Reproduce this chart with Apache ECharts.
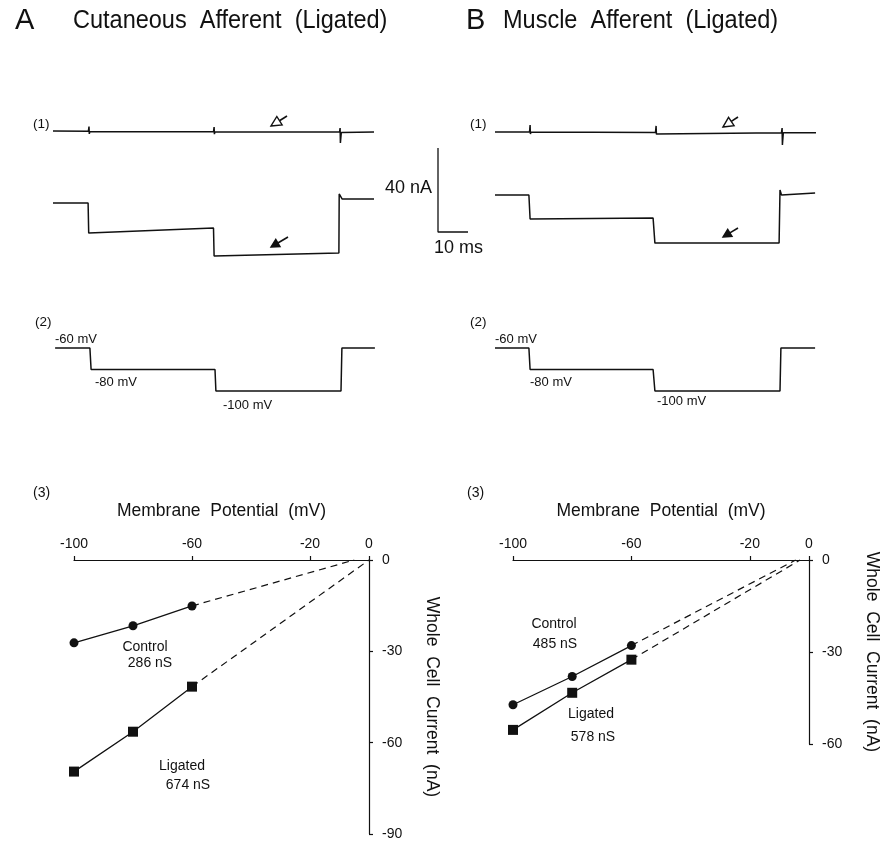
<!DOCTYPE html>
<html><head><meta charset="utf-8">
<script src="https://cdn.jsdelivr.net/npm/echarts@6/dist/echarts.min.js"></script>
<style>html,body{margin:0;padding:0;background:#fff}#c{width:883px;height:841px}</style>
</head><body><div id="c"></div>
<script>
// ---------------- DATA ----------------
const titleA = 'Cutaneous  Afferent  (Ligated)';
const titleB = 'Muscle  Afferent  (Ligated)';

// Panel A, trace (1): time (ms) / current (nA)
const tA1 = [0, 11.8, 12.0, 12.1, 12.3, 53.5, 53.7, 53.8, 54.0, 95.5, 95.7, 95.8, 96.1, 107];
const iA1 = [34.3, 34.2, 36.4, 32.9, 34.1, 33.9, 36.2, 32.8, 33.9, 33.8, 35.7, 28.6, 33.6, 33.8];
// Panel A, trace (2)
const tA2 = [0, 11.7, 11.9, 53.5, 53.7, 95.3, 95.4, 96.4, 107];
const iA2 = [0, 0, -14.3, -11.9, -25.2, -23.8, 4.3, 1.9, 1.9];
// Panel B, trace (1)
const tB1 = [0, 11.5, 11.7, 11.8, 12.0, 53.5, 53.7, 53.8, 54.0, 95.5, 95.7, 95.8, 96.1, 107];
const iB1 = [30.0, 30.0, 33.3, 29.0, 30.0, 29.8, 32.9, 29.0, 29.8, 29.7, 31.9, 23.8, 29.6, 29.7];
// Panel B, trace (2)
const tB2 = [0, 11.3, 11.7, 52.7, 53.3, 94.7, 95.0, 95.5, 106.7];
const iB2 = [0, 0, -11.4, -11.0, -22.9, -22.9, 2.4, 0, 1.0];

// Voltage protocol (mV)
const tVA = [0.7, 12.3, 12.7, 54.0, 54.3, 96.0, 96.3, 107.3];
const tVB = [0, 11.3, 11.7, 52.7, 53.3, 95.0, 95.3, 106.7];
const vCmd = [-60, -60, -80, -80, -100, -100, -60, -60];
const vLabels = ['-60 mV', '-80 mV', '-100 mV'];

// Scale bar (ms, nA)
const scaleLenT = 10, scaleLenI = 40;
const scaleLabels = ['40 nA', '10 ms'];

// I-V relations
const vSteps = [-100, -80, -60];
const ctrlA = [-27.2, -21.6, -15.1];
const ligA = [-69.5, -56.4, -41.6];
const ctrlB = [-47.2, -38.0, -27.9];
const ligB = [-55.4, -43.3, -32.5];
// extrapolated reversal potentials (mV)
const revCtrlA = -5, revLigA = 0, revCtrlB = -4.5, revLigB = -3;
const xTicks = [-100, -60, -20, 0];
const condLabels = {ctrlA: ['Control', '286 nS'], ligA: ['Ligated', '674 nS'], ctrlB: ['Control', '485 nS'], ligB: ['Ligated', '578 nS']};

// ---------------- CHART ----------------
const FF = '"Liberation Sans", Arial, sans-serif';
const INK = '#111';
const zip = (a, b) => a.map((v, i) => [v, b[i]]);

const grids = [
  {left: 53, top: 108.5, width: 324, height: 157.5},   // 0 current A
  {left: 495, top: 100.5, width: 324, height: 157.5},  // 1 current B
  {left: 53, top: 337.25, width: 324, height: 64.5},   // 2 voltage A
  {left: 495, top: 337.25, width: 324, height: 64.5},  // 3 voltage B
  {left: 74, top: 560, width: 295, height: 275},       // 4 IV A
  {left: 513, top: 560, width: 296, height: 184},      // 5 IV B
  {left: 438, top: 148, width: 30, height: 84}         // 6 scale bar (3 px/ms, 2.1 px/nA)
];
const hiddenX = i => ({gridIndex: i, type: 'value', min: 0, max: 108, show: false});
const hiddenYI = i => ({gridIndex: i, type: 'value', min: -30, max: 45, show: false});
const hiddenYV = i => ({gridIndex: i, type: 'value', min: -110, max: -50, show: false});

const axLine = {lineStyle: {color: INK, width: 1.2}};
const ivX = i => ({
  gridIndex: i, type: 'value', position: 'top', min: -100, max: 0,
  name: 'Membrane  Potential  (mV)', nameLocation: 'middle', nameGap: 40,
  nameTextStyle: {fontFamily: FF, fontSize: 17.5, color: INK},
  axisLine: {show: true, onZero: false, ...axLine},
  axisTick: {show: true, length: 4, inside: false, customValues: xTicks, lineStyle: {color: INK, width: 1.2}},
  axisLabel: {fontFamily: FF, fontSize: 14, color: INK, margin: 9, customValues: xTicks},
  splitLine: {show: false}
});
const ivY = (i, min) => ({
  gridIndex: i, type: 'value', position: 'right', min: min, max: 0, interval: 30,
  name: 'Whole  Cell  Current  (nA)', nameLocation: 'middle', nameGap: 54, nameRotate: -90,
  nameTextStyle: {fontFamily: FF, fontSize: 17.5, color: INK},
  axisLine: {show: true, onZero: false, ...axLine},
  axisTick: {show: true, length: 4, inside: false, lineStyle: {color: INK, width: 1.2}},
  axisLabel: {fontFamily: FF, fontSize: 14, color: INK, margin: 13},
  splitLine: {show: false}
});

const trace = (i, data) => ({type: 'line', xAxisIndex: i, yAxisIndex: i, data, symbol: 'none',
  lineStyle: {color: INK, width: 1.5}, clip: false, silent: true, animation: false});
const ivSolid = (i, data, sym, size) => ({type: 'line', xAxisIndex: i, yAxisIndex: i, data,
  symbol: sym, symbolSize: size, itemStyle: {color: INK}, lineStyle: {color: INK, width: 1.3},
  silent: true, animation: false, clip: false});
const ivDash = (i, data) => ({type: 'line', xAxisIndex: i, yAxisIndex: i, data, symbol: 'none',
  lineStyle: {color: INK, width: 1.2, type: [7, 5]}, silent: true, animation: false, clip: false});

const series = [
  trace(0, zip(tA1, iA1)), trace(0, zip(tA2, iA2)),
  trace(1, zip(tB1, iB1)), trace(1, zip(tB2, iB2)),
  trace(2, zip(tVA, vCmd)), trace(3, zip(tVB, vCmd)),
  {type: 'line', xAxisIndex: 6, yAxisIndex: 6, symbol: 'none', clip: false, silent: true, animation: false,
    lineStyle: {color: INK, width: 1.3},
    data: [[0, scaleLenI], [0, 0], [scaleLenT, 0]]},
  ivSolid(4, zip(vSteps, ctrlA), 'circle', 9), ivDash(4, [[vSteps[2], ctrlA[2]], [revCtrlA, 0]]),
  ivSolid(4, zip(vSteps, ligA), 'rect', 10), ivDash(4, [[vSteps[2], ligA[2]], [revLigA, 0]]),
  ivSolid(5, zip(vSteps, ctrlB), 'circle', 9), ivDash(5, [[vSteps[2], ctrlB[2]], [revCtrlB, 0]]),
  ivSolid(5, zip(vSteps, ligB), 'rect', 10), ivDash(5, [[vSteps[2], ligB[2]], [revLigB, 0]])
];

// ---------- annotations ----------
const txt = (x, y, text, size, align, extra) => Object.assign({type: 'text', x, y, silent: true,
  style: {text, font: size + 'px ' + FF, fill: INK, align: align || 'left', verticalAlign: 'middle'}}, extra || {});
function arrow(tipX, tipY, tailX, tailY, filled) {
  const dx = tailX - tipX, dy = tailY - tipY, L = Math.hypot(dx, dy), ux = dx / L, uy = dy / L;
  const hl = filled ? 8 : 10, hw = filled ? 4.2 : 5;
  const bx = tipX + ux * hl, by = tipY + uy * hl, px = -uy, py = ux;
  return [
    {type: 'line', silent: true, shape: {x1: bx, y1: by, x2: tailX, y2: tailY}, style: {stroke: INK, lineWidth: 1.6}},
    {type: 'polygon', silent: true, shape: {points: [[tipX, tipY], [bx + px * hw, by + py * hw], [bx - px * hw, by - py * hw]]},
      style: {fill: filled ? INK : '#fff', stroke: INK, lineWidth: 1.4}}
  ];
}
const graphic = [
  txt(15, 21, 'A', 29),
  txt(73, 21, titleA, 25, 'left', {scaleX: 0.94}),
  txt(466, 21, 'B', 29),
  txt(503, 21, titleB, 25, 'left', {scaleX: 0.94}),
  txt(33, 124, '(1)', 13.5), txt(470, 124, '(1)', 13.5),
  txt(35, 322, '(2)', 13.5), txt(470, 322, '(2)', 13.5),
  txt(33, 493, '(3)', 14), txt(467, 493, '(3)', 14),
  txt(432, 188, scaleLabels[0], 18, 'right'),
  txt(434, 248, scaleLabels[1], 18, 'left'),
  txt(55, 339, vLabels[0], 13), txt(95, 382, vLabels[1], 13), txt(223, 405, vLabels[2], 13),
  txt(495, 339, vLabels[0], 13), txt(530, 382, vLabels[1], 13), txt(657, 401, vLabels[2], 13),
  txt(145, 647, condLabels.ctrlA[0], 14, 'center'), txt(150, 663, condLabels.ctrlA[1], 14, 'center'),
  txt(182, 766, condLabels.ligA[0], 14, 'center'), txt(188, 785, condLabels.ligA[1], 14, 'center'),
  txt(554, 624, condLabels.ctrlB[0], 14, 'center'), txt(555, 644, condLabels.ctrlB[1], 14, 'center'),
  txt(591, 714, condLabels.ligB[0], 14, 'center'), txt(593, 737, condLabels.ligB[1], 14, 'center'),
  ...arrow(271, 126, 287, 116, false), ...arrow(271, 247, 288, 237, true),
  ...arrow(723, 127, 738, 117, false), ...arrow(723, 237, 738, 228, true)
];

const chart = echarts.init(document.getElementById('c'), null, {renderer: 'canvas'});
chart.setOption({
  animation: false,
  backgroundColor: '#fff',
  grid: grids,
  xAxis: [hiddenX(0), hiddenX(1), hiddenX(2), hiddenX(3), ivX(4), ivX(5),
    {gridIndex: 6, type: 'value', min: 0, max: scaleLenT, show: false}],
  yAxis: [hiddenYI(0), hiddenYI(1), hiddenYV(2), hiddenYV(3), ivY(4, -90), ivY(5, -60),
    {gridIndex: 6, type: 'value', min: 0, max: scaleLenI, show: false}],
  series,
  graphic
});
</script></body></html>
